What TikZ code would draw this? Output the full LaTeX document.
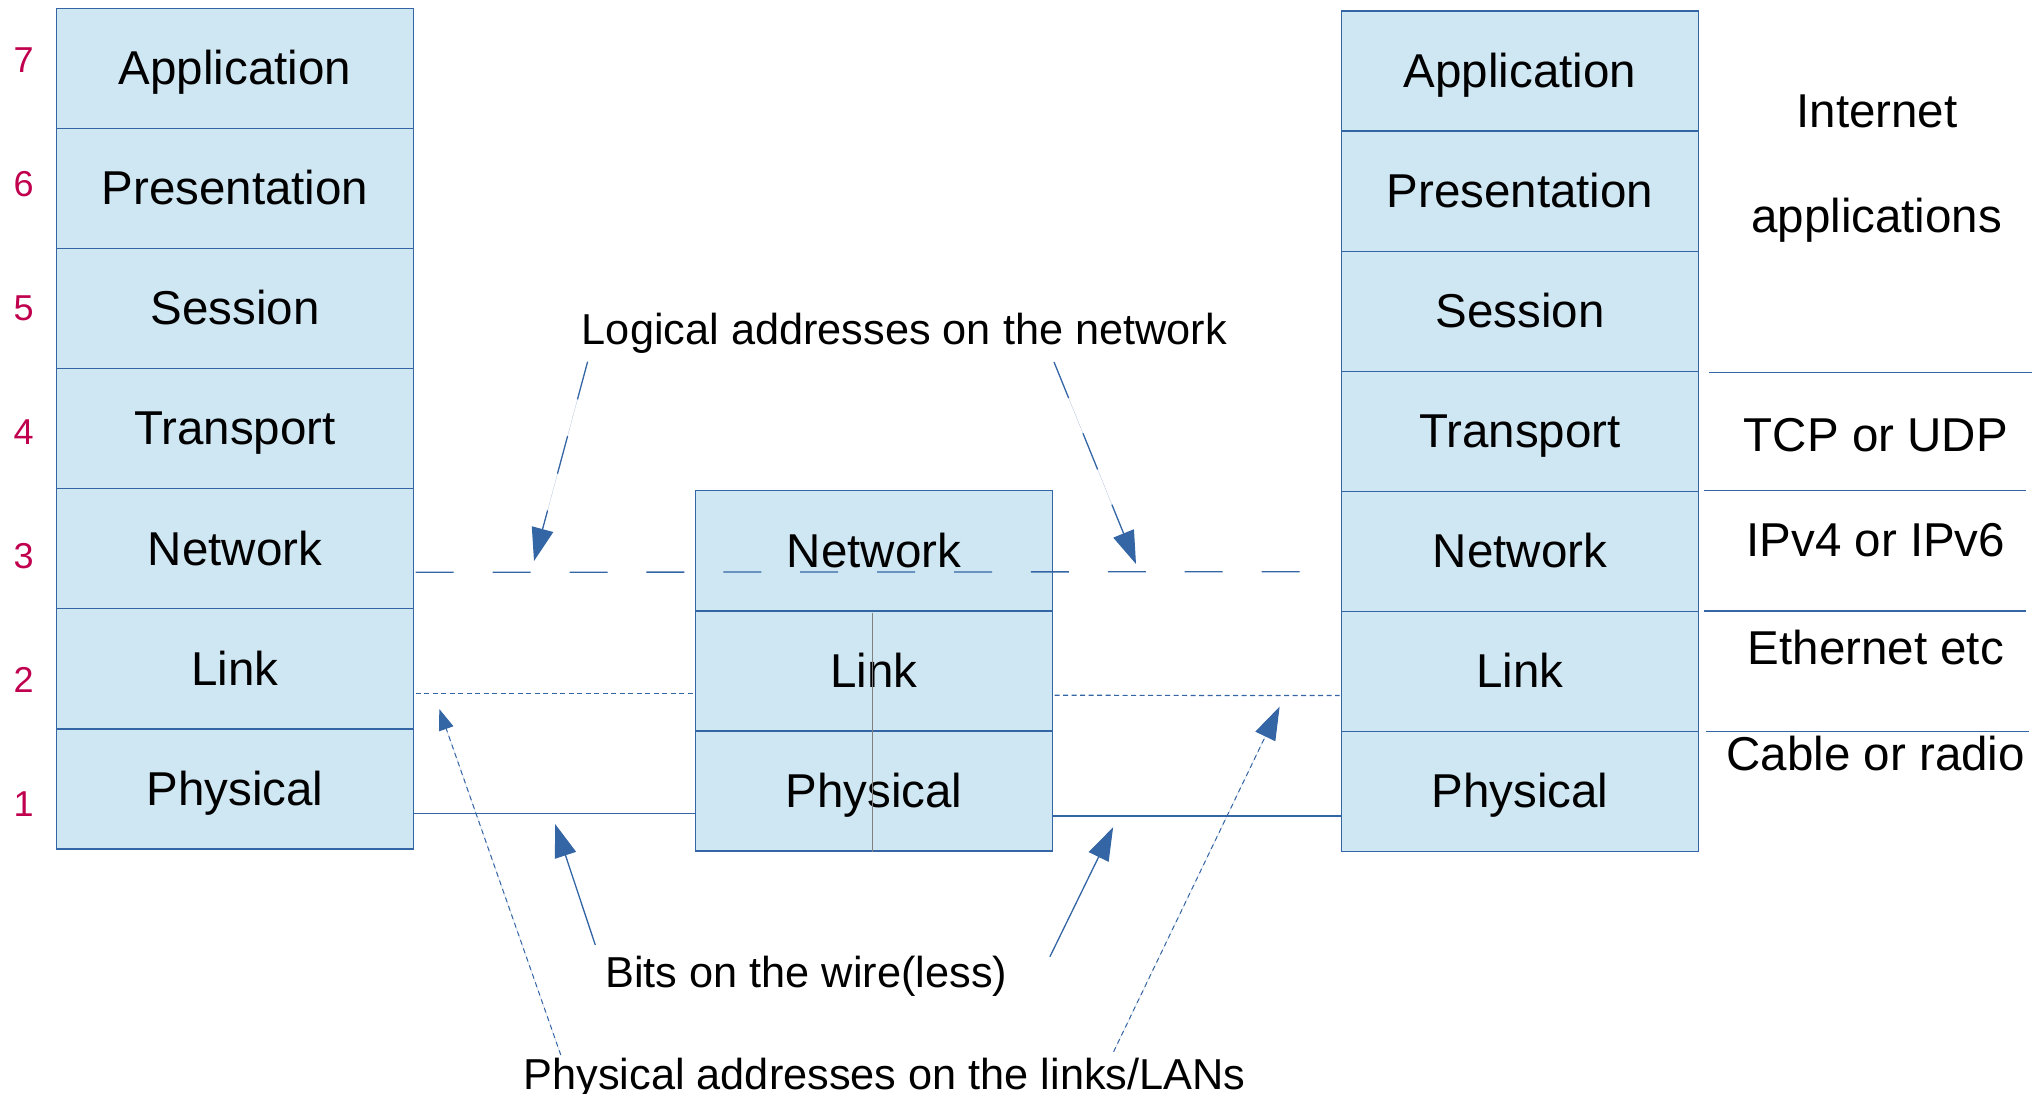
\documentclass[tikz,border=0pt]{standalone}
\usepackage{fontspec}
\setmainfont{Liberation Sans}
\usetikzlibrary{arrows.meta}

\definecolor{layerfill}{RGB}{207,230,243}
\definecolor{layerline}{RGB}{52,101,164}
\definecolor{numred}{RGB}{192,0,78}
\definecolor{splitgray}{RGB}{128,128,128}

\tikzset{
  layer/.style={draw=layerline, line width=1.3pt, fill=layerfill,
    minimum width=356.6pt, minimum height=120.1pt, inner sep=0pt,
    text height=32.6pt, text depth=0pt,
    font=\fontsize{47.5}{57}\selectfont},
  sidelabel/.style={anchor=base, inner sep=0pt, font=\fontsize{47.5}{57}\selectfont},
  note/.style={anchor=base, inner sep=0pt, font=\fontsize{43.3}{52}\selectfont},
  layernum/.style={anchor=base, inner sep=0pt, text=numred, font=\fontsize{36}{43}\selectfont},
  rule/.style={draw=layerline, line width=1.2pt},
  wire/.style={draw=layerline, line width=1.3pt},
  linkline/.style={draw=layerline, line width=1.2pt, dash pattern=on 5pt off 3.5pt},
  netline/.style={draw=layerline, line width=1.3pt, dash pattern=on 38pt off 38.9pt},
  bigtip/.style={-{Triangle[length=33pt,width=22pt]}},
  smalltip/.style={-{Triangle[length=21pt,width=15pt]}},
  logicalarrow/.style={draw=layerline, fill=layerline, line width=1.3pt,
    dash pattern=on 39pt off 38pt, bigtip},
  bitsarrow/.style={draw=layerline, fill=layerline, line width=1.3pt, bigtip},
  physarrow/.style={draw=layerline, fill=layerline, line width=1pt,
    dash pattern=on 5pt off 4pt},
}

\begin{document}
\begin{tikzpicture}[x=1pt, y=-1pt]
\useasboundingbox (0,0) rectangle (2041,1094);

% left host: full seven-layer stack
\node[layer] (L7) at (235,68.35)  {Application};
\node[layer] (L6) at (235,188.45) {Presentation};
\node[layer] (L5) at (235,308.55) {Session};
\node[layer] (L4) at (235,428.65) {Transport};
\node[layer] (L3) at (235,548.75) {Network};
\node[layer] (L2) at (235,668.85) {Link};
\node[layer] (L1) at (235,788.95) {Physical};

% router in the middle: bottom three layers
\node[layer] (M3) at (874,550.8) {Network};
\node[layer] (M2) at (874,670.9) {Link};
\node[layer] (M1) at (874,791.0) {Physical};

% right host: full seven-layer stack
\node[layer] (R7) at (1520,71.05)  {Application};
\node[layer] (R6) at (1520,191.15) {Presentation};
\node[layer] (R5) at (1520,311.25) {Session};
\node[layer] (R4) at (1520,431.35) {Transport};
\node[layer] (R3) at (1520,551.45) {Network};
\node[layer] (R2) at (1520,671.55) {Link};
\node[layer] (R1) at (1520,791.65) {Physical};

% split line through the router's link and physical layers
\draw[splitgray, line width=1pt] ([xshift=-1.6pt,yshift=-2.5pt]M2.north) -- ([xshift=-1.6pt]M1.south);

% layer numbers
\node[layernum] (n7) at (23.7,72.5)  {7};
\node[layernum] (n6) at (23.7,196.5) {6};
\node[layernum] (n5) at (23.7,320.5) {5};
\node[layernum] (n4) at (23.7,444.5) {4};
\node[layernum] (n3) at (23.7,568.5) {3};
\node[layernum] (n2) at (23.7,692.5) {2};
\node[layernum] (n1) at (23.7,816.5) {1};

% protocol examples beside the right stack
\node[sidelabel] (inet) at (1877,127.7) {Internet};
\node[sidelabel] (apps) at (1876.7,232.7) {applications};
\node[sidelabel] (tcp)  at (1875.8,451.7) {TCP or UDP};
\node[sidelabel] (ip)   at (1875.8,556.4) {IPv4 or IPv6};
\node[sidelabel] (eth)  at (1875.8,664) {Ethernet etc};
\node[sidelabel] (cab)  at (1875.8,770) {Cable or radio};

\coordinate (s4a) at (1708.8,372.3); \coordinate (s4b) at (2031.6,372.3);
\coordinate (s3a) at (1704,490.7);   \coordinate (s3b) at (2026.4,490.7);
\coordinate (s2a) at (1704,611);     \coordinate (s2b) at (2026.4,611);
\coordinate (s1a) at (1706.4,731.7); \coordinate (s1b) at (2029.2,731.7);
\draw[rule] (s4a) -- (s4b);
\draw[rule] (s3a) -- (s3b);
\draw[rule] (s2a) -- (s2b);
\draw[rule] (s1a) -- (s1b);

% peer connections between the stacks
\coordinate (netA) at (415.7,572.3);
\coordinate (netB) at (1299.6,571.7);
\draw[netline] (netA) -- (netB);

\coordinate (lnkA) at (415.6,693.3);
\coordinate (lnkB) at (692.9,693.3);
\coordinate (lnkC) at (1054.5,695.3);
\coordinate (lnkD) at (1339.5,695.5);
\draw[linkline] (lnkA) -- (lnkB);
\draw[linkline] (lnkC) -- (lnkD);

\draw[wire] (L1.east |- 0,813.3) -- (M1.west |- 0,813.3);
\draw[wire] (M1.east |- 0,816) -- (R1.west |- 0,816);

% annotations
\node[note] (logical) at (904.4,344.3) {Logical addresses on the network};
\node[note] (bits)    at (806.3,987.3) {Bits on the wire(less)};
\node[note] (physadr) at (884.6,1089.5) {Physical addresses on the links/LANs};

\coordinate (lgA) at (587.6,361.7);  \coordinate (lgAt) at (534,561);
\coordinate (lgB) at (1054,362);     \coordinate (lgBt) at (1136,564);
\draw[logicalarrow] (lgA) -- (lgAt);
\draw[logicalarrow] (lgB) -- (lgBt);

\coordinate (btA) at (595.3,945);    \coordinate (btAt) at (555.1,824);
\coordinate (btB) at (1049.9,956.7); \coordinate (btBt) at (1113.1,827.3);
\draw[bitsarrow] (btA) -- (btAt);
\draw[bitsarrow] (btB) -- (btBt);

\coordinate (paA) at (560.8,1055);   \coordinate (paAt) at (439.3,709);
\coordinate (paB) at (1113.6,1051.7); \coordinate (paBt) at (1279.6,706.7);
\draw[physarrow, smalltip] (paA) -- (paAt);
\draw[physarrow, bigtip] (paB) -- (paBt);
\end{tikzpicture}
\end{document}
